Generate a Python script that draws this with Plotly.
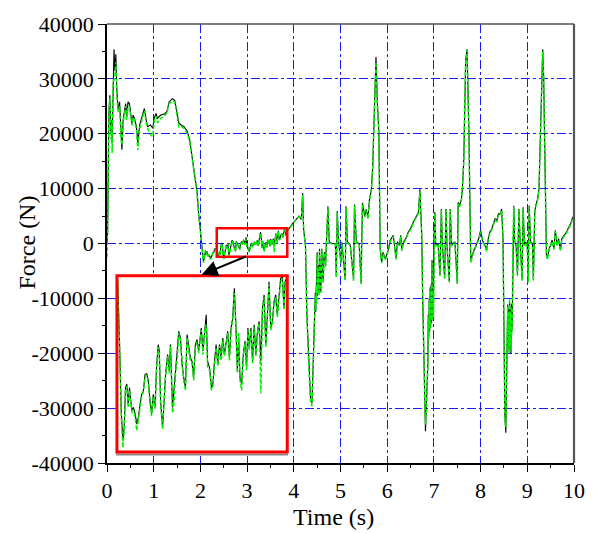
import plotly.graph_objects as go

# ---------------- data ----------------
time_s = [
    # 0 - 2 s
    0.00, 0.014, 0.04, 0.06, 0.085, 0.10, 0.11, 0.13, 0.15, 0.17, 0.19, 0.21, 0.24, 0.27, 0.30, 0.32,
    0.345, 0.38, 0.40, 0.42, 0.45, 0.48, 0.51, 0.535, 0.56, 0.59, 0.63, 0.66, 0.70, 0.73, 0.77, 0.80,
    0.84, 0.87, 0.93, 0.98, 1.01, 1.05, 1.08, 1.15, 1.23, 1.28, 1.33, 1.40, 1.45, 1.49, 1.54, 1.59,
    1.65, 1.72, 1.77, 1.82, 1.87, 1.93, 1.96, 1.985,
    # 2 - 3.85 s (zoomed window)
    2.007, 2.029, 2.047, 2.065, 2.080, 2.094, 2.109, 2.123, 2.138, 2.152, 2.167, 2.182, 2.200, 2.218,
    2.236, 2.254, 2.272, 2.290, 2.309, 2.327, 2.345, 2.363, 2.381, 2.399, 2.418, 2.436, 2.454, 2.465,
    2.479, 2.501, 2.516, 2.534, 2.556, 2.574, 2.588, 2.610, 2.628, 2.643, 2.661, 2.679, 2.697, 2.715,
    2.733, 2.752, 2.770, 2.788, 2.806, 2.824, 2.842, 2.861, 2.879, 2.897, 2.915, 2.926, 2.944, 2.962,
    2.980, 2.995, 3.017, 3.038, 3.053, 3.071, 3.089, 3.107, 3.126, 3.144, 3.162, 3.180, 3.198, 3.216,
    3.235, 3.253, 3.271, 3.289, 3.307, 3.322, 3.336, 3.351, 3.369, 3.387, 3.405, 3.423, 3.438, 3.452,
    3.471, 3.489, 3.507, 3.525, 3.543, 3.561, 3.580, 3.598, 3.616, 3.634, 3.652, 3.670, 3.688, 3.707,
    3.725, 3.743, 3.761, 3.779, 3.797, 3.816, 3.834, 3.845,
    # 3.9 - 4.4 s
    3.89, 3.96, 4.04, 4.11, 4.16, 4.19, 4.21, 4.25, 4.28, 4.32, 4.36, 4.39,
    # 4.4 - 4.7 s (dense band)
    4.41, 4.43, 4.45, 4.46, 4.47, 4.48, 4.49, 4.50, 4.51, 4.52, 4.53, 4.54, 4.55, 4.565, 4.58, 4.59,
    4.60, 4.615, 4.63, 4.645, 4.66, 4.68, 4.70,
    # 4.7 - 6.87 s
    4.73, 4.76, 4.82, 4.89, 4.91, 4.93, 4.96, 5.01, 5.03,
    5.10, 5.12, 5.15, 5.21, 5.28, 5.30, 5.34, 5.40, 5.44, 5.47, 5.52, 5.55, 5.59, 5.62, 5.66, 5.69,
    5.71, 5.73, 5.76, 5.79, 5.82, 5.85, 5.88, 5.91, 5.96, 6.03, 6.06, 6.13, 6.17, 6.19, 6.22, 6.26,
    6.29, 6.31, 6.35, 6.40, 6.45, 6.50, 6.56, 6.62, 6.67, 6.70, 6.72, 6.74, 6.76, 6.79, 6.81, 6.82,
    6.84,
    # 6.87 - 7.0 s (dense band)
    6.87, 6.88, 6.89, 6.90, 6.91, 6.92, 6.93, 6.94, 6.95, 6.96, 6.97, 6.98, 6.99, 7.00,
    # 7.0 - 8.58 s
    7.02, 7.04, 7.09, 7.13, 7.16, 7.18, 7.23,
    7.26, 7.28, 7.33, 7.35, 7.38, 7.45, 7.50, 7.52, 7.55, 7.59, 7.61, 7.64, 7.66, 7.68, 7.71, 7.73,
    7.75, 7.77, 7.79, 7.82, 7.86, 7.91, 7.96, 8.00, 8.04, 8.09, 8.13, 8.17, 8.20, 8.24, 8.28, 8.31,
    8.35, 8.38, 8.42, 8.45, 8.48, 8.50, 8.52, 8.54, 8.56,
    # 8.58 - 8.69 s (dense band)
    8.58, 8.59, 8.60, 8.61, 8.62, 8.63, 8.64, 8.65, 8.66, 8.67, 8.68, 8.69,
    # 8.7 - 10 s
    8.71, 8.73, 8.76, 8.79, 8.82, 8.85, 8.89, 8.91, 8.94, 8.97, 9.00, 9.02, 9.04, 9.07, 9.11, 9.13, 9.16,
    9.18, 9.22, 9.25, 9.28, 9.30, 9.33, 9.35, 9.37, 9.39, 9.41, 9.43, 9.47, 9.50, 9.53, 9.57, 9.60,
    9.64, 9.67, 9.71, 9.74, 9.79, 9.84, 9.89, 9.93, 9.96, 10.0,
]

force_black = [
    # 0 - 2 s
    0, 2150, 23700, 27000, 20100, 22500, 18300, 29700, 35400, 31500, 34500, 27900, 24300, 25800, 20100, 17100,
    22500, 24300, 25500, 23100, 25800, 25500, 23100, 21900, 23400, 22800, 21300, 18300, 21600, 22500, 23400, 24600,
    22500, 21300, 21600, 21000, 22800, 23700, 22800, 23400, 23600, 24000, 25800, 26400, 26100, 24000, 21900, 21600,
    21300, 20400, 18900, 15900, 12900, 9300, 5700, 3500,
    # 2 - 3.85 s
    2407, 100, -2208, -3246, -2785, -1400, -1285, -1977, -1400, -1862, -2208, -2092, -2323, -2669,
    -2438, -1977, -1631, -1515, -939, -915, -1169, -1862, -2323, -1631, -2092, -592, 100, -131,
    -1862, -2785, -1977, -939, -246, -823, 100, -2092, -1400, -823, -362, 561, 331, -592,
    -1054, -1400, 446, -15, -362, -477, -1054, 100, 273, -131, 446, 677, -131, 677,
    1138, -477, -708, -1400, -1285, -477, 100, -592, 100, -362, 331, -246, 215, 561,
    -362, 677, 1023, 2061, 677, -823, 331, -1054, -1285, -246, 215, -708, 677, -15,
    677, -477, 792, -246, 561, 908, -477, 1369, 1831, 100, 1138, 2292, 677, 908,
    1600, 1831, 1138, 1715, 2407, 2465, 1369, 2292,
    # 3.9 - 4.4 s
    2600, 3500, 4400, 5000, 4400, 9200, 2600, -360, -12900, -21900, -28500, -29100,
    # 4.4 - 4.7 s
    -23100, -16000, -13500, -9000, -12500, -7500, -10500, -1600, -9500, -7500, -4000, -9000, -960, -7000, -8700, -3000,
    -960, -6000, -6900, -2500, -1600, -4000, 240,
    # 4.7 - 6.87 s
    6800, 240, 0, 0, -6000, 5900, 240, -3400, 240,
    -6600, 6800, 240, -300, -6600, 7100, 240, 0, -7200, 7400, 5000, 6200, 4700, 8000, 9800, 14000,
    20100, 25500, 34000, 25500, 20700, -900, -3400, -1600, -2800, -1000, 500, 1500, -900, -2700, 300, -300,
    1500, -1200, 300, 900, 2100, 2700, 3900, 4800, 5700, 9900, 4500, 1500, -9900, -26700, -30300, -34200,
    -29700,
    # 6.87 - 7.0 s
    -21900, -13000, -17000, -10000, -16000, -8000, -15000, -7500, -14500, -3000, -13500, -8000, -14100, 300,
    # 7.0 - 8.58 s
    5700, -300, 0, -5700, 6300, 0, -6300,
    6300, -300, -6900, 6300, -300, 300, -7200, 7500, 6900, 8100, 9900, 15300, 26100, 33300, 35400, 29100,
    20100, 8100, -3300, -2100, -1200, -300, 900, 2400, 600, -300, -1200, 1200, 2100, 2700, 3600, 4500,
    4200, 5400, 5400, 6300, 900, -24900, -31500, -34500, -24300,
    # 8.58 - 8.69 s
    -11100, -19000, -12000, -19500, -10500, -18000, -12000, -20100, -11000, -16000, -12900, -300,
    # 8.7 - 10 s
    6900, 300, -300, -5700, 6300, -300, -6600, 6600, -300, 300, -600, -6900, 6900, 300, 0, -6600, 5700,
    6900, 8100, 9900, 20100, 29100, 35400, 30300, 20100, 9300, -2100, -2700, -900, -300, 600, -900, 2400,
    -300, 900, -1200, 900, 1500, 2100, 3000, 3600, 4500, 5100,
]

force_green = [
    # 0 - 2 s
    -2500, 3000, 23000, 26500, 19000, 22000, 16500, 29000, 30000, 30500, 33000, 27000, 24000, 25000, 19000, 18000,
    22000, 24000, 25000, 22500, 25000, 25000, 22500, 21500, 23000, 22500, 20800, 17000, 21000, 22000, 23000, 24200,
    22000, 21000, 19800, 19500, 22300, 23200, 22000, 22800, 23300, 23700, 25500, 26000, 25800, 23600, 21200, 21300,
    21000, 20000, 18700, 15700, 12700, 9100, 5500, 3300,
    # 2 - 3.85 s
    2300, 0, -2400, -3500, -2900, -1500, -1350, -2100, -1500, -1950, -2300, -2150, -2450, -2900,
    -2550, -2050, -1700, -1550, -1050, -950, -1250, -1950, -2400, -1700, -2150, -700, 0, -200,
    -1950, -2850, -2050, -1000, -300, -900, 50, -2300, -1900, -900, -450, 500, 250, -650,
    -1150, -1500, 350, -100, -450, -550, -1150, 0, 200, -200, 350, 600, -250, 550,
    800, -700, -800, -1500, -1350, -550, 0, -650, 50, -450, 250, -300, 150, 500,
    -450, 600, 950, 1900, 600, -900, 500, -1150, -1500, -300, 150, -800, 600, -100,
    600, -550, 700, -300, 500, 850, -1600, 1300, 1750, 0, 1050, 2200, 600, 850,
    1500, 1750, 1050, 1650, 2300, 2400, 1300, 2200,
    # 3.9 - 4.4 s
    2500, 3400, 4300, 4900, 4300, 8800, 2500, -500, -13200, -22500, -29000, -29600,
    # 4.4 - 4.7 s
    -23500, -16500, -14000, -9500, -12000, -8000, -11000, -2000, -9000, -8000, -4500, -9500, -1300, -7500, -9000, -3300,
    -1200, -6300, -7200, -2800, -1800, -4300, 100,
    # 4.7 - 6.87 s
    6600, 100, -100, -100, -6200, 5700, 100, -3600, 100,
    -6800, 6600, 100, -400, -6800, 6900, 100, -100, -7400, 7200, 4800, 6000, 4500, 7800, 9600, 13600,
    19800, 25000, 33000, 25000, 20400, -1100, -3600, -1800, -3000, -1200, 300, 1300, -1100, -2900, 100, -400,
    1300, -1400, 100, 700, 1900, 2500, 3700, 4600, 5500, 9500, 4300, 1300, -10300, -27300, -30800, -33000,
    -30000,
    # 6.87 - 7.0 s
    -22300, -13500, -17500, -10500, -15500, -8500, -15500, -8000, -14000, -3500, -14000, -8500, -13500, 100,
    # 7.0 - 8.58 s
    5500, -500, -100, -5900, 6100, -100, -6500,
    6100, -500, -7100, 6100, -500, 100, -7400, 7300, 6700, 7900, 9700, 15000, 25800, 33000, 35200, 28800,
    19800, 7800, -3500, -2300, -1400, -500, 700, 2200, 400, -500, -1400, 1000, 1900, 2500, 3400, 4300,
    4000, 5200, 5200, 6100, 700, -25300, -32000, -33500, -24700,
    # 8.58 - 8.69 s
    -11500, -19500, -12500, -20000, -10000, -18500, -12500, -19500, -11500, -16500, -13200, -500,
    # 8.7 - 10 s
    6700, 100, -500, -5900, 6100, -500, -6800, 6400, -500, 100, -800, -7100, 6700, 100, -200, -6800, 5500,
    6700, 7900, 9700, 19800, 28800, 35000, 30000, 19800, 9000, -2300, -2900, -1100, -500, 400, -1100, 2200,
    -500, 700, -1400, 700, 1300, 1900, 2800, 3400, 4300, 4900,
]

assert len(time_s) == len(force_black) == len(force_green), (len(time_s), len(force_black), len(force_green))

x_ticks = [0, 1, 2, 3, 4, 5, 6, 7, 8, 9, 10]
y_ticks = [-40000, -30000, -20000, -10000, 0, 10000, 20000, 30000, 40000]
x_range = [0, 10]
y_range = [-40000, 40000]

# zoomed window shown in the inset
zoom_box_x = [2.35, 3.86]
zoom_box_y = [-2400, 2800]
inset_x_range = [2.0, 3.87]
inset_y_range = [-3650, 2500]
arrow_tail = [3.006, -2260]
arrow_head = [2.026, -5690]

# ---------------- figure ----------------
FONT = "Liberation Serif"
BLACK = "#000000"
GREEN = "#00ee00"
GRID = "#1a1aff"

fig = go.Figure()

for xa, ya in (("x", "y"), ("x2", "y2")):
    fig.add_trace(go.Scatter(x=time_s, y=force_black, mode="lines", xaxis=xa, yaxis=ya,
                             line=dict(color=BLACK, width=1.1), showlegend=False, hoverinfo="skip"))
    fig.add_trace(go.Scatter(x=time_s, y=force_green, mode="lines", xaxis=xa, yaxis=ya,
                             line=dict(color=GREEN, width=1.5, dash="4px,2px"),
                             showlegend=False, hoverinfo="skip"))

axis_common = dict(
    showline=True, linecolor=BLACK, linewidth=1.5,
    ticks="outside", ticklen=7, tickwidth=1.2, tickcolor=BLACK,
    showgrid=True, gridcolor=GRID, gridwidth=1, griddash="dashdot",
    zeroline=False,
    tickfont=dict(family=FONT, size=22, color=BLACK),
)

fig.update_layout(
    width=597, height=534,
    margin=dict(l=107, r=21, t=20, b=71),
    font=dict(family=FONT, size=22, color=BLACK),
    paper_bgcolor="white", plot_bgcolor="white",
    xaxis=dict(range=x_range, tickvals=x_ticks, ticktext=[str(v) for v in x_ticks],
               minor=dict(dtick=0.5, ticks="outside", ticklen=3.5, tickcolor=BLACK, tickwidth=1, showgrid=False),
               **axis_common),
    yaxis=dict(range=y_range, tickvals=y_ticks, ticktext=[str(v) for v in y_ticks],
               minor=dict(dtick=5000, ticks="outside", ticklen=3.5, tickcolor=BLACK, tickwidth=1, showgrid=False),
               **axis_common),
    xaxis2=dict(domain=[0.0213, 0.386], range=inset_x_range, anchor="y2", visible=False),
    yaxis2=dict(domain=[0.0248, 0.4266], range=inset_y_range, anchor="x2", visible=False),
)

shapes = [
    # top and right frame (grey)
    dict(type="line", xref="x domain", yref="y domain", x0=0, x1=1, y0=1, y1=1,
         line=dict(color="#555555", width=1.5)),
    dict(type="line", xref="x domain", yref="y domain", x0=1, x1=1, y0=0, y1=1,
         line=dict(color="#555555", width=2.2)),
    # small red box around the zoomed region
    dict(type="rect", xref="x", yref="y", x0=zoom_box_x[0], x1=zoom_box_x[1],
         y0=zoom_box_y[0], y1=zoom_box_y[1], line=dict(color="#ff0000", width=2.5)),
    # inset shadow + red frame
    dict(type="line", xref="x2 domain", yref="y2 domain", x0=-0.005, x1=1.005, y0=-0.014, y1=-0.014,
         line=dict(color="#8a8a8a", width=2)),
    dict(type="rect", xref="x2 domain", yref="y2 domain", x0=0, x1=1, y0=0, y1=1,
         line=dict(color="#ff0000", width=3)),
]
fig.update_layout(shapes=shapes)

fig.add_annotation(x=arrow_head[0], y=arrow_head[1], ax=arrow_tail[0], ay=arrow_tail[1],
                   xref="x", yref="y", axref="x", ayref="y", text="", showarrow=True,
                   arrowhead=2, arrowsize=1.6, arrowwidth=2, arrowcolor=BLACK, standoff=0)

fig.add_annotation(text="Time (s)", xref="paper", yref="paper", x=0.484, y=-0.122,
                   xanchor="center", yanchor="middle", showarrow=False,
                   font=dict(family=FONT, size=24, color=BLACK))
fig.add_annotation(text="Force (N)", xref="paper", yref="paper", x=-0.1706, y=0.503,
                   xanchor="center", yanchor="middle", showarrow=False, textangle=-90,
                   font=dict(family=FONT, size=24, color=BLACK))

fig.write_html("out.html", config={"displayModeBar": False},
               post_script="document.body.style.margin='0';document.body.style.padding='0';"
                           "document.documentElement.style.overflow='hidden';")
